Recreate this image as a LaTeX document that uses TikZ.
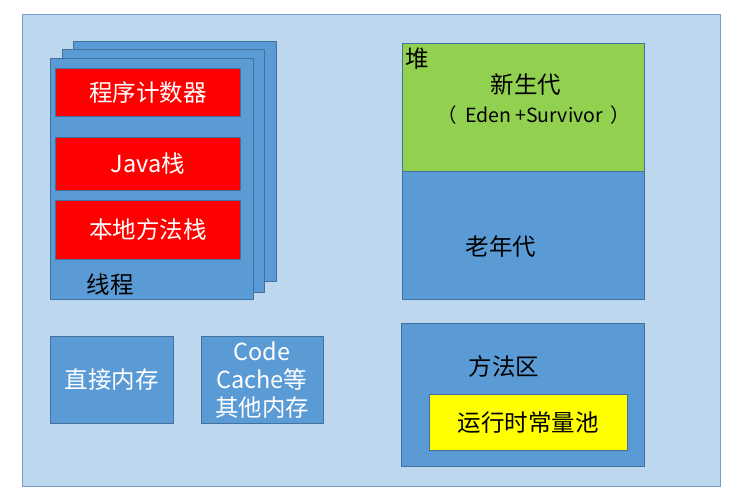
\documentclass[tikz,border=0pt]{standalone}
\usepackage{fontspec}
\setmainfont{Noto Sans CJK SC}
\definecolor{outerfill}{RGB}{189,215,238}
\definecolor{outerdraw}{RGB}{120,155,200}
\definecolor{boxblue}{RGB}{91,155,213}
\definecolor{boxdraw}{RGB}{65,113,156}
\definecolor{heapgreen}{RGB}{146,208,80}
\definecolor{poolyellow}{RGB}{255,255,0}
\begin{document}
\begin{tikzpicture}[x=1pt,y=-1pt,
  area/.style={draw=boxdraw, fill=boxblue, line width=0.8pt},
  redbox/.style={draw=boxdraw, fill=red, line width=0.8pt},
  big/.style={font=\fontsize{23.5}{28}\selectfont, inner sep=0pt},
  small/.style={font=\fontsize{19.5}{22}\selectfont, inner sep=0pt},
  wt/.style={text=white},
  bt/.style={text=black}]
\useasboundingbox (0,0) rectangle (745,502);
% outer
\draw[draw=outerdraw, fill=outerfill, line width=1pt] (22,15) rectangle (720,487);
% thread stack
\draw[area] (73,41) rectangle (276,281);
\draw[area] (62,49) rectangle (264,292);
\draw[area] (50,58) rectangle (253,299);
\node[redbox, minimum width=185pt, minimum height=48pt, anchor=north west, inner sep=0pt] (pc) at (55,68) {};
\node[redbox, minimum width=185pt, minimum height=53pt, anchor=north west, inner sep=0pt] (js) at (55,137) {};
\node[redbox, minimum width=185pt, minimum height=59pt, anchor=north west, inner sep=0pt] (ns) at (55,200) {};
\node[big, wt] (pct) at (pc.center) {程序计数器};
\node[big, wt] (jst) at (js.center) {Java栈};
\node[big, wt] (nst) at (ns.center) {本地方法栈};
\node[big, bt] (thr) at (110,285) {线程};
% heap
\node[draw=boxdraw, fill=heapgreen, line width=0.8pt, minimum width=242pt, minimum height=128pt, anchor=north west, inner sep=0pt] (young) at (402,43) {};
\node[area, minimum width=242pt, minimum height=128pt, anchor=north west, inner sep=0pt] (old) at (402,171) {};
\node[big, bt] (heapt) at (417,59) {堆};
\node[big, bt] (youngt) at (526,85) {新生代};
\node[small, bt] (edent) at (534,115) {（\hspace{8pt}Eden +Survivor\hspace{8pt}）};
\node[big, bt] (oldt) at (501,247) {老年代};
% method area
\node[area, minimum width=243pt, minimum height=143pt, anchor=north west, inner sep=0pt] (ma) at (401,323) {};
\node[big, bt] (mat) at (504,367) {方法区};
\node[draw=boxdraw, fill=poolyellow, line width=0.8pt, minimum width=198pt, minimum height=56pt, anchor=north west, inner sep=0pt] (pool) at (429,394) {};
\node[big, bt] (poolt) at (pool.center) {运行时常量池};
% other memory
\node[area, minimum width=123pt, minimum height=87pt, anchor=north west, inner sep=0pt] (dm) at (50,336) {};
\node[big, wt] (dmt) at (dm.center) {直接内存};
\node[area, minimum width=122pt, minimum height=87pt, anchor=north west, inner sep=0pt] (cc) at (201,336) {};
\node[big, wt, align=center] (cct) at (262,380) {Code\\Cache等\\其他内存};
\end{tikzpicture}
\end{document}
